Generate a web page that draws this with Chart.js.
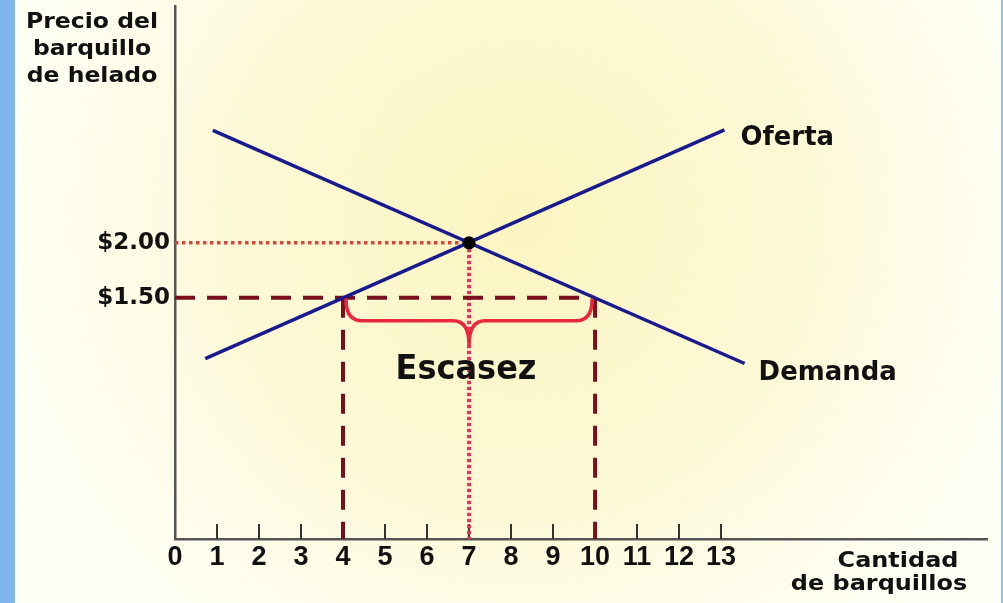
<!DOCTYPE html>
<html><head><meta charset="utf-8">
<script src="https://cdn.jsdelivr.net/npm/chart.js@4/dist/chart.umd.min.js"></script>
<style>
html,body{margin:0;padding:0;background:#fffff6;overflow:hidden}
#wrap{position:absolute;left:0;top:0;width:1003px;height:603px}
canvas{display:block}
</style></head>
<body><div id="wrap"><canvas id="c" width="1003" height="603"></canvas></div>
<script>
// ---- data ----
const xTickValues = [0,1,2,3,4,5,6,7,8,9,10,11,12,13];
const xTickLabels = ['0','1','2','3','4','5','6','7','8','9','10','11','12','13'];
const yTickValues = [1.5, 2.0];
const yTickLabels = ['$1.50', '$2.00'];
const supplyQty = [0.72, 13.08];
const supplyPrice = [0.945, 3.03];
const demandQty = [0.9, 13.56];
const demandPrice = [3.025, 0.9];
const equilibriumQty = 7;
const equilibriumPrice = 2.0;
const ceilingPrice = 1.5;
const quantitySupplied = 4;
const quantityDemanded = 10;
const xMin = 0, xMax = 19.33;
const yMin = -0.7, yMax = 4.155;
const yTitleLines = ['Precio del', 'barquillo', 'de helado'];
const xTitleLines = ['Cantidad', 'de barquillos'];
const supplyLabel = 'Oferta';
const demandLabel = 'Demanda';
const shortageLabel = 'Escasez';

const pts = (xs, ys) => xs.map((x, i) => ({x: x, y: ys[i]}));
const BOLD = '"DejaVu Sans", Verdana, sans-serif';
const NARROW = '"Liberation Sans Narrow", "Liberation Sans", Arial, sans-serif';

function txt(ctx, s, x, y, size, align, sx) {
  ctx.save();
  ctx.translate(x, y);
  ctx.scale(sx, 1);
  ctx.font = 'bold ' + size + 'px ' + BOLD;
  ctx.textAlign = align;
  ctx.textBaseline = 'alphabetic';
  ctx.fillStyle = '#111';
  ctx.fillText(s, 0, 0);
  ctx.restore();
}

const bgPlugin = {
  id: 'bg',
  beforeDraw(chart) {
    const ctx = chart.ctx, w = chart.width, h = chart.height;
    ctx.save();
    ctx.fillStyle = '#fffff5';
    ctx.fillRect(0, 0, w, h);
    const g = ctx.createRadialGradient(520, 220, 0, 520, 220, 600);
    g.addColorStop(0, 'rgba(251,245,192,1)');
    g.addColorStop(0.5, 'rgba(252,248,210,0.85)');
    g.addColorStop(1, 'rgba(255,255,245,0)');
    ctx.fillStyle = g;
    ctx.fillRect(0, 0, w, h);
    ctx.fillStyle = '#7fb6ea';
    ctx.fillRect(0, 0, 15, h);
    ctx.fillStyle = '#8ec0ee';
    ctx.fillRect(w - 2, 0, 2, h);
    ctx.restore();
  }
};

const overlayPlugin = {
  id: 'overlay',
  beforeDatasetsDraw(chart) {
    const ctx = chart.ctx, xs = chart.scales.x, ys = chart.scales.y;
    const yb = ys.getPixelForValue(yMin);
    ctx.save();
    ctx.strokeStyle = '#333';
    ctx.lineWidth = 2;
    xTickValues.forEach(v => {
      if (v === 0) return;
      const px = Math.round(xs.getPixelForValue(v));
      ctx.beginPath();
      ctx.moveTo(px, yb - 15);
      ctx.lineTo(px, yb);
      ctx.stroke();
    });
    ctx.restore();
  },
  afterDatasetsDraw(chart) {
    const ctx = chart.ctx, xs = chart.scales.x, ys = chart.scales.y;
    // brace for the shortage
    const xa = xs.getPixelForValue(quantitySupplied) + 3;
    const xb = xs.getPixelForValue(quantityDemanded) - 3;
    const xm = xs.getPixelForValue(equilibriumQty);
    const y0 = ys.getPixelForValue(ceilingPrice) + 2;
    const ymid = y0 + 21, tip = y0 + 45, r = 16;
    ctx.save();
    ctx.strokeStyle = '#e8283c';
    ctx.lineWidth = 3.5;
    ctx.lineCap = 'round';
    ctx.lineJoin = 'round';
    ctx.beginPath();
    ctx.moveTo(xa, y0);
    ctx.quadraticCurveTo(xa, ymid, xa + r, ymid);
    ctx.lineTo(xm - r, ymid);
    ctx.quadraticCurveTo(xm, ymid, xm, tip);
    ctx.quadraticCurveTo(xm, ymid, xm + r, ymid);
    ctx.lineTo(xb - r, ymid);
    ctx.quadraticCurveTo(xb, ymid, xb, y0);
    ctx.stroke();
    ctx.restore();

    // labels
    const sx = xs.getPixelForValue(supplyQty[1]), sy = ys.getPixelForValue(supplyPrice[1]);
    txt(ctx, supplyLabel, sx + 16, sy + 15, 27, 'left', 0.96);
    const dx = xs.getPixelForValue(demandQty[1]), dy = ys.getPixelForValue(demandPrice[1]);
    txt(ctx, demandLabel, dx + 14, dy + 16, 27, 'left', 0.96);
    txt(ctx, shortageLabel, xm - 3, ys.getPixelForValue(ceilingPrice) + 81, 33, 'center', 0.97);

    // axis titles
    const lx = 92;
    [28, 55, 82].forEach((b, i) => txt(ctx, yTitleLines[i], lx, b, 21, 'center', 1.12));
    txt(ctx, xTitleLines[0], 898, 567, 21, 'center', 1.14);
    txt(ctx, xTitleLines[1], 879, 590, 21, 'center', 1.14);
  }
};

const lineDs = (data, color, width, dash, order) => ({
  data: data, showLine: true, borderColor: color, borderWidth: width,
  borderDash: dash, pointRadius: 0, pointHoverRadius: 0, fill: false,
  tension: 0, order: order, borderCapStyle: 'butt'
});

const ctx = document.getElementById('c').getContext('2d');
new Chart(ctx, {
  type: 'scatter',
  data: {
    datasets: [
      {
        data: [{x: equilibriumQty, y: equilibriumPrice}],
        pointRadius: 6.5, pointHoverRadius: 6.5, pointBackgroundColor: '#050505',
        pointBorderWidth: 0, showLine: false, order: 0
      },
      lineDs(pts(supplyQty, supplyPrice), '#1a1a8f', 3.5, [], 1),
      lineDs(pts(demandQty, demandPrice), '#1a1a8f', 3.5, [], 1),
      lineDs([{x: xMin, y: ceilingPrice}, {x: quantityDemanded, y: ceilingPrice}], '#7a0f1e', 4, [20, 12], 2),
      lineDs([{x: quantitySupplied, y: ceilingPrice}, {x: quantitySupplied, y: yMin}], '#7a0f1e', 4, [20, 12], 2),
      lineDs([{x: quantityDemanded, y: ceilingPrice}, {x: quantityDemanded, y: yMin}], '#7a0f1e', 4, [20, 12], 2),
      lineDs([{x: xMin, y: equilibriumPrice}, {x: equilibriumQty, y: equilibriumPrice}], '#d8463a', 3.5, [3.5, 3.5], 3),
      lineDs([{x: equilibriumQty, y: equilibriumPrice}, {x: equilibriumQty, y: yMin}], '#e2345c', 4, [3.5, 2.5], 3)
    ]
  },
  options: {
    responsive: false,
    animation: false,
    devicePixelRatio: 1,
    layout: {padding: {left: 0, right: 16, top: 5, bottom: 0}},
    plugins: {legend: {display: false}, tooltip: {enabled: false}},
    events: [],
    scales: {
      x: {
        type: 'linear', min: xMin, max: xMax,
        afterBuildTicks: s => { s.ticks = xTickValues.map(v => ({value: v})); },
        afterFit: s => { s.height = 64; s.paddingLeft = 0; s.paddingRight = 0; },
        grid: {display: false, drawTicks: false},
        border: {display: true, color: '#555', width: 2.5},
        ticks: {
          padding: 2, autoSkip: false, maxRotation: 0, color: '#111',
          font: {family: NARROW, size: 27, weight: 'bold'},
          callback: v => xTickLabels[xTickValues.indexOf(v)]
        }
      },
      y: {
        type: 'linear', min: yMin, max: yMax,
        afterBuildTicks: s => { s.ticks = yTickValues.map(v => ({value: v})); },
        afterFit: s => { s.width = 175; s.paddingTop = 0; s.paddingBottom = 0; },
        grid: {display: false, drawTicks: false},
        border: {display: true, color: '#555', width: 2.5},
        ticks: {
          padding: 5, color: '#111',
          font: {family: BOLD, size: 23, weight: 'bold'},
          callback: v => yTickLabels[yTickValues.indexOf(v)]
        }
      }
    }
  },
  plugins: [bgPlugin, overlayPlugin]
});
</script>
</body></html>
